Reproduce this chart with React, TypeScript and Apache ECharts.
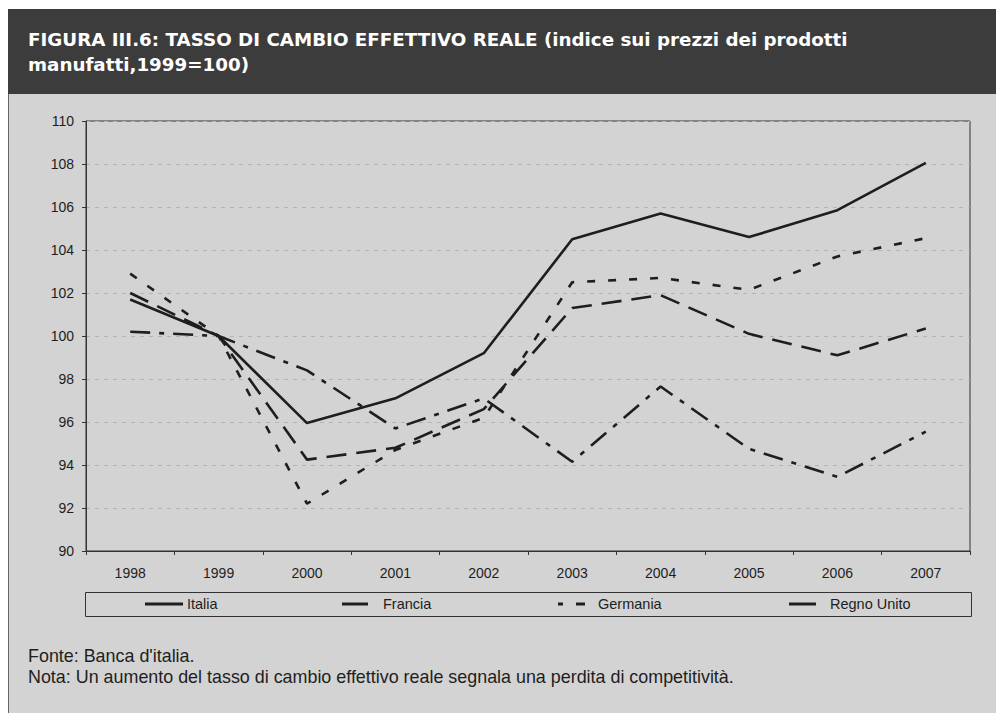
import React, { useEffect, useRef } from "react";
import * as echarts from "echarts";

const years = ["1998", "1999", "2000", "2001", "2002", "2003", "2004", "2005", "2006", "2007"];
const italia = [101.7, 100.0, 95.95, 97.1, 99.2, 104.5, 105.7, 104.6, 105.85, 108.05];
const francia = [102.0, 100.0, 94.25, 94.8, 96.6, 101.3, 101.9, 100.1, 99.1, 100.35];
const germania = [102.9, 100.0, 92.2, 94.7, 96.2, 102.5, 102.7, 102.15, 103.7, 104.55];
const regnoUnito = [100.2, 100.0, 98.4, 95.7, 97.1, 94.15, 97.65, 94.75, 93.45, 95.55];

const seriesNames = ["Italia", "Francia", "Germania", "Regno Unito"];

const titleLine1 = "FIGURA III.6: TASSO DI CAMBIO EFFETTIVO REALE";
const titleLine1b = " (indice sui prezzi dei prodotti";
const titleLine2 = "manufatti,1999=100)";
const note1 = "Fonte: Banca d'italia.";
const note2 = "Nota: Un aumento del tasso di cambio effettivo reale segnala una perdita di competitività.";

const INK = "#1e1e1e";

export default function App() {
  const ref = useRef<HTMLDivElement>(null);
  useEffect(() => {
    document.body.style.margin = "0";
    const chart = echarts.init(ref.current!, null, { renderer: "svg" });
    const mk = (name: string, data: number[], type: any) => ({
      name,
      type: "line",
      data,
      symbol: "none",
      lineStyle: { color: INK, width: 2.6, type, cap: "butt" },
      itemStyle: { color: INK },
    });

    const legendItems = [
      { segs: [[145, 38]], textX: 187 },
      { segs: [[342, 26]], textX: 383 },
      { segs: [[558, 5], [576, 9]], textX: 598 },
      { segs: [[789, 27]], textX: 830 },
    ];
    const legendGraphics: any[] = [];
    legendItems.forEach((it, i) => {
      it.segs.forEach(([x, w]) => {
        legendGraphics.push({ type: "rect", shape: { x, y: 602.5, width: w, height: 3 }, style: { fill: INK } });
      });
      legendGraphics.push({
        type: "text",
        x: it.textX,
        y: 604,
        style: { text: seriesNames[i], fontFamily: "Liberation Sans", fontSize: 14.5, fill: INK, verticalAlign: "middle" },
      });
    });

    chart.setOption({
      animation: false,
      backgroundColor: "#ffffff",
      textStyle: { fontFamily: "Liberation Sans" },
      graphic: [
        { type: "rect", z: -10, shape: { x: 8, y: 9, width: 988, height: 704 }, style: { fill: "#d3d3d3" } },
        { type: "line", z: -9, shape: { x1: 8.5, y1: 94, x2: 8.5, y2: 713 }, style: { stroke: "#666", lineWidth: 1 } },
        { type: "rect", z: -9, shape: { x: 8, y: 9, width: 988, height: 85 }, style: { fill: "#3c3c3c" } },
        {
          type: "text",
          x: 28,
          y: 27,
          style: {
            text: "{b|" + titleLine1 + "}{b|" + titleLine1b + "}\n{b|" + titleLine2 + "}",
            fill: "#ffffff",
            rich: {
              b: { fontFamily: "DejaVu Sans", fontWeight: "bold", fontSize: 18.3, fill: "#ffffff", lineHeight: 25 },
            },
          },
        },
        { type: "rect", shape: { x: 85.5, y: 592.5, width: 886, height: 24 }, style: { fill: "none", stroke: "#333", lineWidth: 1 } },
        ...legendGraphics,
        {
          type: "text",
          x: 28,
          y: 645,
          style: { text: note1 + "\n" + note2, fontFamily: "Liberation Sans", fontSize: 17.9, fill: INK, lineHeight: 21 },
        },
      ],
      grid: { left: 86, right: 26, top: 121, bottom: 162, show: true, borderColor: "#333", borderWidth: 1, backgroundColor: "transparent" },
      xAxis: {
        type: "category",
        data: years,
        boundaryGap: true,
        axisLine: { lineStyle: { color: "#333", width: 1 } },
        axisTick: { show: true, length: 4, lineStyle: { color: "#333" } },
        axisLabel: { color: INK, fontSize: 14, margin: 15, fontFamily: "Liberation Sans" },
      },
      yAxis: {
        type: "value",
        min: 90,
        max: 110,
        interval: 2,
        axisLine: { show: true, lineStyle: { color: "#333", width: 1 } },
        axisTick: { show: true, length: 4, lineStyle: { color: "#333" } },
        axisLabel: { color: INK, fontSize: 14, margin: 12, fontFamily: "Liberation Sans" },
        splitLine: { show: true, lineStyle: { color: "#b4b4b4", type: [4, 5], width: 1 } },
      },
      series: [
        mk(seriesNames[0], italia, "solid"),
        mk(seriesNames[1], francia, [20, 10]),
        mk(seriesNames[2], germania, [8, 13]),
        mk(seriesNames[3], regnoUnito, [20, 9, 5, 9]),
      ],
    });
    return () => chart.dispose();
  }, []);
  return <div ref={ref} style={{ width: 996, height: 713 }} />;
}
